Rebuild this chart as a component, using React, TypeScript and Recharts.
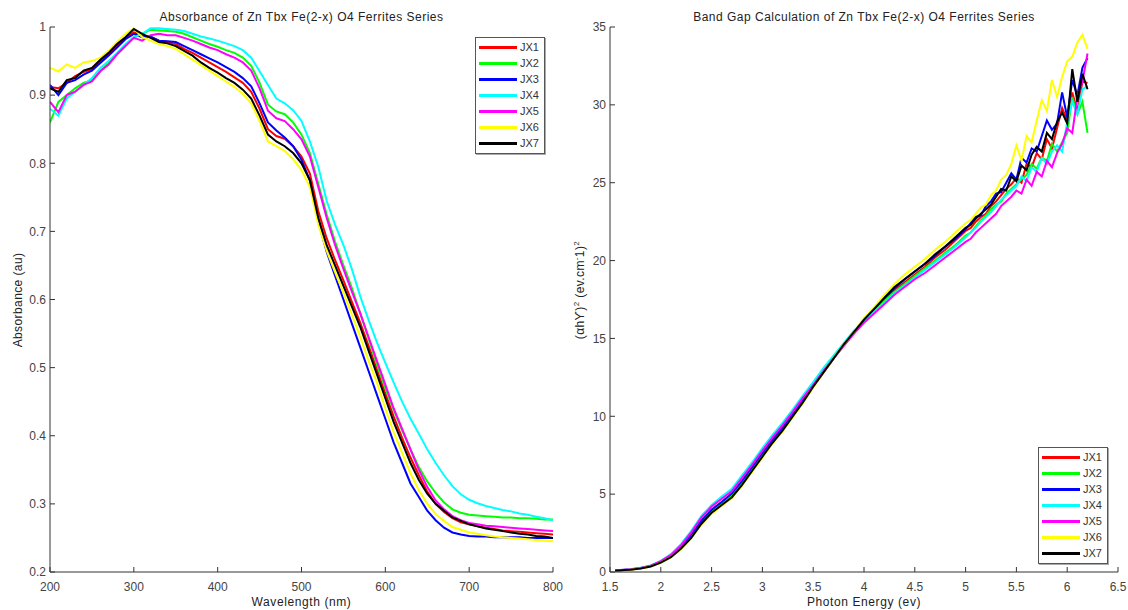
import React from 'react';
import { LineChart, Line, XAxis, YAxis, Legend } from 'recharts';

const FONT = '"Liberation Sans", Arial, sans-serif';

// ---------- Left chart: absorbance vs wavelength ----------
const wavelength = [
  200, 210, 220, 230, 240, 250, 260, 270, 280, 290,
  300, 310, 320, 330, 340, 350, 360, 370, 380, 390,
  400, 410, 420, 430, 440, 450, 460, 470, 480, 490,
  500, 510, 520, 530, 540, 550, 560, 570, 580, 590,
  600, 610, 620, 630, 640, 650, 660, 670, 680, 690,
  700, 710, 720, 730, 740, 750, 760, 770, 780, 790,
  800,
];

const absJX1 = [
  0.912, 0.91, 0.918, 0.928, 0.934, 0.938, 0.95, 0.96, 0.972, 0.984,
  0.992, 0.988, 0.985, 0.98, 0.978, 0.975, 0.968, 0.962, 0.955, 0.948,
  0.941, 0.934, 0.926, 0.918, 0.905, 0.88, 0.85, 0.84, 0.836, 0.825,
  0.81, 0.785, 0.73, 0.69, 0.658, 0.628, 0.597, 0.566, 0.532, 0.497,
  0.462, 0.428, 0.397, 0.368, 0.342, 0.318, 0.3, 0.288, 0.279, 0.273,
  0.27, 0.267, 0.265, 0.263, 0.261, 0.26, 0.259, 0.258, 0.257, 0.256,
  0.255,
];
const absJX2 = [
  0.86, 0.89, 0.9, 0.91, 0.918, 0.922, 0.935, 0.948, 0.96, 0.972,
  0.985, 0.99, 0.996, 0.995, 0.994, 0.993, 0.99, 0.985, 0.98, 0.975,
  0.971, 0.966, 0.962, 0.955, 0.943, 0.918, 0.886, 0.876, 0.872, 0.86,
  0.842, 0.815, 0.77, 0.725, 0.685, 0.65, 0.617, 0.58, 0.543, 0.505,
  0.47, 0.438, 0.408, 0.38, 0.354, 0.333, 0.316, 0.302, 0.292, 0.287,
  0.284, 0.283, 0.282, 0.281, 0.28, 0.28, 0.279, 0.279, 0.278, 0.277,
  0.277,
];
const absJX3 = [
  0.915, 0.9, 0.918, 0.922, 0.93, 0.936, 0.947, 0.958, 0.97, 0.982,
  0.99, 0.985, 0.986, 0.98, 0.979, 0.978, 0.972, 0.966, 0.96, 0.954,
  0.948, 0.941, 0.934, 0.925, 0.913, 0.888, 0.86, 0.848, 0.838, 0.825,
  0.805, 0.775, 0.715, 0.67, 0.635, 0.6, 0.565, 0.53, 0.495, 0.46,
  0.425, 0.39, 0.36, 0.33, 0.31, 0.29, 0.276, 0.265, 0.258, 0.255,
  0.253, 0.252, 0.252, 0.251, 0.251, 0.251, 0.251, 0.25, 0.25, 0.25,
  0.25,
];
const absJX4 = [
  0.88, 0.87, 0.895, 0.905, 0.915, 0.925, 0.94, 0.95, 0.962, 0.975,
  0.985, 0.99, 0.998, 0.998, 0.997, 0.996, 0.994, 0.99, 0.986, 0.983,
  0.98, 0.976, 0.972, 0.966, 0.955, 0.935, 0.915, 0.895, 0.888, 0.878,
  0.862, 0.832, 0.795, 0.745, 0.71, 0.68, 0.645, 0.605, 0.57, 0.537,
  0.507, 0.478, 0.45, 0.425, 0.403, 0.38, 0.36, 0.342, 0.326, 0.314,
  0.306, 0.301, 0.297, 0.294, 0.291, 0.289, 0.286, 0.284, 0.281, 0.279,
  0.276,
];
const absJX5 = [
  0.89, 0.875, 0.9, 0.905, 0.915, 0.92, 0.935, 0.945, 0.96, 0.972,
  0.984, 0.98, 0.988, 0.99, 0.988, 0.988, 0.984, 0.98, 0.975, 0.97,
  0.966, 0.96, 0.955, 0.948, 0.936, 0.91, 0.877, 0.866, 0.862, 0.85,
  0.835, 0.81, 0.765, 0.72, 0.68, 0.645, 0.612, 0.58, 0.545, 0.51,
  0.475, 0.44, 0.41, 0.38, 0.35, 0.325, 0.305, 0.292, 0.282, 0.276,
  0.272, 0.27, 0.268, 0.267, 0.266, 0.265, 0.264, 0.263, 0.262, 0.261,
  0.26,
];
const absJX6 = [
  0.94, 0.935, 0.945, 0.94, 0.948, 0.95, 0.955, 0.965, 0.978, 0.99,
  0.998, 0.985, 0.98, 0.975, 0.972, 0.968, 0.96, 0.952, 0.944, 0.936,
  0.928, 0.92, 0.912, 0.902, 0.888, 0.862, 0.832, 0.825, 0.818, 0.806,
  0.79, 0.765, 0.71, 0.672, 0.64, 0.61, 0.578, 0.545, 0.51, 0.478,
  0.44, 0.405, 0.375, 0.345, 0.32, 0.3, 0.285, 0.275, 0.266, 0.262,
  0.258, 0.256, 0.254, 0.252, 0.251, 0.25, 0.249, 0.248, 0.247, 0.246,
  0.245,
];
const absJX7 = [
  0.91, 0.905, 0.922, 0.925, 0.936, 0.94, 0.952, 0.962, 0.975, 0.985,
  0.997, 0.99, 0.984, 0.978, 0.976, 0.972, 0.965, 0.958, 0.948, 0.94,
  0.933, 0.925, 0.918, 0.908, 0.895, 0.87, 0.842, 0.832, 0.825, 0.815,
  0.8, 0.775, 0.72, 0.68, 0.65, 0.62, 0.59, 0.56, 0.525, 0.49,
  0.455, 0.42, 0.39, 0.36, 0.335, 0.315, 0.3, 0.29, 0.28, 0.275,
  0.27, 0.267, 0.264, 0.262, 0.26, 0.258, 0.256, 0.255, 0.253, 0.252,
  0.25,
];

// ---------- Right chart: (αhν)^2 vs photon energy ----------
const photonEnergy = [
  1.55, 1.6, 1.7, 1.8, 1.9, 2.0, 2.1, 2.2, 2.3, 2.4,
  2.5, 2.6, 2.7, 2.8, 2.9, 3.0, 3.1, 3.2, 3.3, 3.4,
  3.5, 3.6, 3.7, 3.8, 3.9, 4.0, 4.1, 4.2, 4.3, 4.4,
  4.5, 4.6, 4.7, 4.8, 4.9, 5.0, 5.05, 5.1, 5.15, 5.2,
  5.25, 5.3, 5.35, 5.4, 5.45, 5.5, 5.55, 5.6, 5.65, 5.7,
  5.75, 5.8, 5.85, 5.9, 5.95, 6.0, 6.05, 6.1, 6.15, 6.2,
];
const bgJX1 = [
  0.1, 0.12, 0.16, 0.24, 0.38, 0.65, 1.02, 1.6, 2.35, 3.3,
  4.0, 4.5, 5.0, 5.8, 6.7, 7.6, 8.5, 9.3, 10.2, 11.0,
  11.9, 12.8, 13.7, 14.6, 15.4, 16.1, 16.8, 17.5, 18.1, 18.6,
  19.1, 19.6, 20.2, 20.7, 21.3, 21.9, 22.1, 22.5, 22.8, 23.0,
  23.5, 23.8, 24.2, 24.6, 24.9, 25.3, 25.0, 26.2, 26.0, 26.9,
  26.5, 27.8, 27.2, 28.5, 29.8, 29.0, 30.8, 29.6, 31.5, 31.4,
];
const bgJX2 = [
  0.1, 0.12, 0.16, 0.24, 0.37, 0.64, 1.0, 1.58, 2.35, 3.25,
  3.95, 4.45, 4.95, 5.8, 6.7, 7.6, 8.5, 9.3, 10.2, 11.1,
  12.0, 12.9, 13.8, 14.6, 15.4, 16.2, 16.8, 17.4, 18.0, 18.5,
  19.0, 19.5, 20.0, 20.5, 21.0, 21.6, 21.8, 22.2, 22.6, 22.9,
  23.3, 23.6, 23.8, 24.3, 24.6, 24.9, 25.2, 25.5, 26.2, 25.9,
  26.6, 26.4, 27.5, 27.0, 27.6, 28.2, 30.5, 29.4, 30.2, 28.2,
];
const bgJX3 = [
  0.1, 0.12, 0.16, 0.24, 0.38, 0.66, 1.05, 1.62, 2.4, 3.3,
  4.0, 4.5, 5.05, 5.85, 6.75, 7.65, 8.5, 9.3, 10.2, 11.1,
  12.0, 12.9, 13.8, 14.6, 15.4, 16.2, 16.9, 17.6, 18.2, 18.8,
  19.3, 19.8, 20.3, 20.9, 21.4, 22.0, 22.4, 22.8, 22.9, 23.5,
  23.8, 24.3, 24.4, 25.0, 25.6, 25.2, 26.6, 26.3, 27.2, 27.0,
  28.0, 29.0, 28.4, 28.8, 30.8, 29.2, 31.6, 30.6, 32.4, 33.0,
];
const bgJX4 = [
  0.1, 0.13, 0.18, 0.27, 0.42, 0.72, 1.15, 1.8, 2.65, 3.6,
  4.3, 4.85, 5.35, 6.2, 7.05, 7.95, 8.8, 9.6, 10.45, 11.35,
  12.2, 13.1, 13.9, 14.7, 15.5, 16.1, 16.7, 17.3, 17.9, 18.4,
  18.9, 19.4, 19.9, 20.4, 20.9, 21.5, 21.8, 22.1, 22.5, 22.8,
  23.1, 23.5, 23.9, 24.2, 24.5, 24.8, 25.4, 25.1, 26.0, 25.7,
  26.6, 26.2, 27.0, 27.4, 27.0, 28.9, 30.2, 29.4, 31.0, 31.2,
];
const bgJX5 = [
  0.1, 0.13, 0.17, 0.26, 0.4, 0.7, 1.1, 1.72, 2.55, 3.5,
  4.2, 4.7, 5.2, 6.05, 6.9, 7.8, 8.65, 9.45, 10.3, 11.2,
  12.0, 12.9, 13.7, 14.5, 15.3, 16.0, 16.6, 17.2, 17.8, 18.3,
  18.8, 19.2, 19.7, 20.2, 20.7, 21.2, 21.4, 21.8, 22.1, 22.4,
  22.7, 23.0, 23.5, 23.8, 24.1, 24.5, 24.3, 25.2, 24.8, 25.7,
  25.4, 26.4, 26.0, 26.9, 27.5, 28.5, 28.2, 30.5, 31.5, 33.3,
];
const bgJX6 = [
  0.1, 0.12, 0.15, 0.22, 0.35, 0.6, 0.95, 1.48, 2.2, 3.05,
  3.75, 4.25, 4.75, 5.55, 6.45, 7.35, 8.25, 9.05, 9.95, 10.85,
  11.85, 12.8, 13.7, 14.6, 15.4, 16.3, 17.0, 17.8, 18.5, 19.1,
  19.6, 20.1, 20.7, 21.2, 21.8, 22.4, 22.6, 23.0, 23.4, 23.6,
  24.2, 24.5, 25.2, 25.5, 26.2, 27.4, 26.4, 28.0, 27.6, 29.0,
  30.3, 29.6, 31.6, 30.5, 31.8, 32.8, 33.1, 34.0, 34.5, 33.6,
];
const bgJX7 = [
  0.1, 0.12, 0.15, 0.22, 0.35, 0.6, 0.95, 1.5, 2.2, 3.1,
  3.8, 4.3, 4.8, 5.6, 6.5, 7.4, 8.3, 9.1, 10.0, 10.9,
  11.9, 12.8, 13.7, 14.6, 15.4, 16.2, 16.9, 17.6, 18.3, 18.8,
  19.3, 19.8, 20.4, 20.9, 21.5, 22.1, 22.3, 22.7, 23.0, 23.3,
  23.6, 24.1, 24.6, 24.5, 25.4, 25.1, 26.1, 25.8, 26.8, 27.3,
  27.0, 28.2, 27.8, 28.9, 29.5, 28.8, 32.3, 30.2, 32.0, 31.0,
];

const seriesNames = ['JX1', 'JX2', 'JX3', 'JX4', 'JX5', 'JX6', 'JX7'];
const seriesColors = ['#ff0000', '#00ff00', '#0000ff', '#00ffff', '#ff00ff', '#ffff00', '#000000'];

const absTicksX = [200, 300, 400, 500, 600, 700, 800];
const absTicksY = [0.2, 0.3, 0.4, 0.5, 0.6, 0.7, 0.8, 0.9, 1];
const bgTicksX = [1.5, 2, 2.5, 3, 3.5, 4, 4.5, 5, 5.5, 6, 6.5];
const bgTicksY = [0, 5, 10, 15, 20, 25, 30, 35];

const absSeries = [absJX1, absJX2, absJX3, absJX4, absJX5, absJX6, absJX7];
const bgSeries = [bgJX1, bgJX2, bgJX3, bgJX4, bgJX5, bgJX6, bgJX7];

const buildRows = (xs: number[], series: number[][]) =>
  xs.map((x, i) => {
    const row: Record<string, number> = { x };
    seriesNames.forEach((n, k) => {
      row[n] = series[k][i];
    });
    return row;
  });

const absData = buildRows(wavelength, absSeries);
const bgData = buildRows(photonEnergy, bgSeries);

const AXIS = '#333';
const TICK = { fill: '#444', fontSize: 12, fontFamily: FONT };
const fmt = (v: number) => String(Number(v.toFixed(2)));

const renderLegend = (props: any) => {
  const payload = props.payload || [];
  return (
    <div
      style={{
        border: '1px solid #555',
        boxShadow: '1px 1px 0 #aaa',
        background: '#fff',
        padding: '1px 3px 2px 3px',
        width: 62,
        boxSizing: 'content-box',
        fontFamily: FONT,
      }}
    >
      {payload.map((p: any) => (
        <div key={p.value} style={{ display: 'flex', alignItems: 'center', height: 16 }}>
          <div style={{ width: 38, height: 3, background: p.color, marginRight: 3 }} />
          <span style={{ fontSize: 11, color: '#333', lineHeight: '16px' }}>{p.value}</span>
        </div>
      ))}
    </div>
  );
};

const Title = ({ left, width, text }: { left: number; width: number; text: string }) => (
  <div
    style={{
      position: 'absolute',
      left,
      width,
      top: 10,
      textAlign: 'center',
      fontSize: 12,
      letterSpacing: 0.5,
      color: '#222',
      fontFamily: FONT,
      lineHeight: '14px',
      whiteSpace: 'nowrap',
    }}
  >
    {text}
  </div>
);

const XLabel = ({ left, width, children }: { left: number; width: number; children: React.ReactNode }) => (
  <div
    style={{
      position: 'absolute',
      left,
      width,
      top: 595,
      textAlign: 'center',
      fontSize: 12,
      letterSpacing: 0.6,
      color: '#222',
      fontFamily: FONT,
      lineHeight: '14px',
      whiteSpace: 'nowrap',
    }}
  >
    {children}
  </div>
);

const YLabel = ({ cx, cy, children }: { cx: number; cy: number; children: React.ReactNode }) => (
  <div
    style={{
      position: 'absolute',
      left: cx,
      top: cy,
      transform: 'translate(-50%, -50%) rotate(-90deg)',
      fontSize: 12,
      letterSpacing: 0.4,
      color: '#222',
      fontFamily: FONT,
      lineHeight: '14px',
      whiteSpace: 'nowrap',
    }}
  >
    {children}
  </div>
);

export default function App() {
  return (
    <div style={{ position: 'relative', width: 1128, height: 610, background: '#fff', overflow: 'hidden' }}>
      <style>{'body{margin:0;background:#fff}'}</style>

      <div style={{ position: 'absolute', left: 0, top: 0 }}>
        <LineChart width={580} height={610} data={absData} margin={{ top: 27, right: 27, bottom: 0, left: 10 }}>
          <XAxis
            dataKey="x"
            type="number"
            domain={[200, 800]}
            ticks={absTicksX}
            interval={0}
            height={38}
            tickSize={-5}
            tickMargin={15}
            stroke={AXIS}
            tick={TICK}
            allowDataOverflow
          />
          <XAxis
            xAxisId="top"
            orientation="top"
            dataKey="x"
            type="number"
            domain={[200, 800]}
            ticks={absTicksX}
            height={0}
            tick={false}
            tickSize={-5}
            stroke={AXIS}
            allowDataOverflow
          />
          <YAxis
            type="number"
            domain={[0.2, 1]}
            ticks={absTicksY}
            interval={0}
            width={40}
            tickSize={-5}
            tickMargin={9}
            stroke={AXIS}
            tick={TICK}
            tickFormatter={fmt}
            allowDataOverflow
          />
          <YAxis
            yAxisId="right"
            orientation="right"
            type="number"
            domain={[0.2, 1]}
            ticks={absTicksY}
            width={0}
            tick={false}
            tickSize={-5}
            stroke={AXIS}
            allowDataOverflow
          />
          {seriesNames.map((n, k) => (
            <Line
              key={n}
              type="linear"
              dataKey={n}
              name={n}
              stroke={seriesColors[k]}
              strokeWidth={2}
              dot={false}
              isAnimationActive={false}
            />
          ))}
          <Legend
            layout="horizontal"
            verticalAlign="middle"
            align="center"
            content={renderLegend}
            wrapperStyle={{ left: 475, top: 37, width: 70 }}
          />
        </LineChart>
      </div>

      <div style={{ position: 'absolute', left: 560, top: 0 }}>
        <LineChart width={568} height={610} data={bgData} margin={{ top: 27, right: 10, bottom: 0, left: 10 }}>
          <XAxis
            dataKey="x"
            type="number"
            domain={[1.5, 6.5]}
            ticks={bgTicksX}
            interval={0}
            height={38}
            tickSize={-5}
            tickMargin={15}
            stroke={AXIS}
            tick={TICK}
            tickFormatter={fmt}
            allowDataOverflow
          />
          <XAxis
            xAxisId="top"
            orientation="top"
            dataKey="x"
            type="number"
            domain={[1.5, 6.5]}
            ticks={bgTicksX}
            height={0}
            tick={false}
            tickSize={-5}
            stroke={AXIS}
            allowDataOverflow
          />
          <YAxis
            type="number"
            domain={[0, 35]}
            ticks={bgTicksY}
            interval={0}
            width={40}
            tickSize={-5}
            tickMargin={9}
            stroke={AXIS}
            tick={TICK}
            allowDataOverflow
          />
          <YAxis
            yAxisId="right"
            orientation="right"
            type="number"
            domain={[0, 35]}
            ticks={bgTicksY}
            width={0}
            tick={false}
            tickSize={-5}
            stroke={AXIS}
            allowDataOverflow
          />
          {seriesNames.map((n, k) => (
            <Line
              key={n}
              type="linear"
              dataKey={n}
              name={n}
              stroke={seriesColors[k]}
              strokeWidth={2}
              dot={false}
              isAnimationActive={false}
            />
          ))}
          <Legend
            layout="horizontal"
            verticalAlign="middle"
            align="center"
            content={renderLegend}
            wrapperStyle={{ left: 478, top: 447, width: 70 }}
          />
        </LineChart>
      </div>

      <Title left={50} width={503} text="Absorbance of Zn Tbx Fe(2-x) O4 Ferrites Series" />
      <Title left={610} width={508} text="Band Gap Calculation of Zn Tbx Fe(2-x) O4 Ferrites Series" />
      <XLabel left={50} width={503}>Wavelength (nm)</XLabel>
      <XLabel left={610} width={508}>Photon Energy (ev)</XLabel>
      <YLabel cx={18} cy={300}>Absorbance (au)</YLabel>
      <YLabel cx={578} cy={290}>
        (αhϒ)<sup style={{ fontSize: 8 }}>2</sup> (ev.cm<sup style={{ fontSize: 8 }}>-</sup>1)
        <sup style={{ fontSize: 8 }}>2</sup>
      </YLabel>
    </div>
  );
}
